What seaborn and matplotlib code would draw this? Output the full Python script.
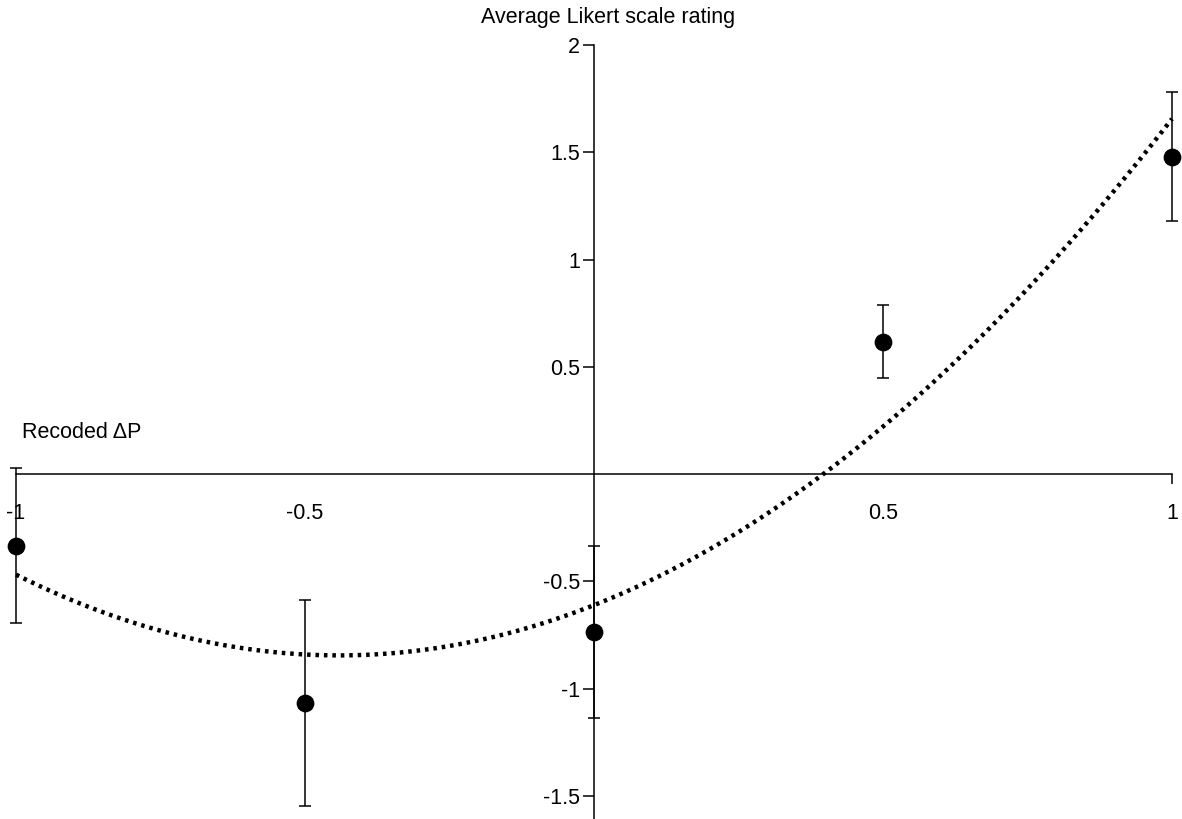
import matplotlib
matplotlib.use('Agg')
import matplotlib.pyplot as plt
import seaborn as sns
import pandas as pd

# values
delta_p = [-1.0, -0.5, 0.0, 0.5, 1.0]
mean_rating = [-0.334, -1.069, -0.737, 0.617, 1.479]
rating_err = [0.36, 0.48, 0.40, 0.17, 0.30]

x_ticks = [-1, -0.5, 0.5, 1]
x_tick_labels = ['-1', '-0.5', '0.5', '1']
y_ticks = [-1.5, -1, -0.5, 0.5, 1, 1.5, 2]
y_tick_labels = ['-1.5', '-1', '-0.5', '0.5', '1', '1.5', '2']

df = pd.DataFrame({'dp': delta_p, 'rating': mean_rating, 'err': rating_err})

sns.set_theme(style='white')
plt.rcParams['font.family'] = ['Liberation Sans', 'DejaVu Sans']
fs = 15.5

fig = plt.figure(figsize=(11.82, 8.19), dpi=100)
ax = fig.add_axes([16 / 1182, 0.0, 1156 / 1182, 1 - 45 / 819])

# quadratic fit, dotted
sns.regplot(data=df, x='dp', y='rating', order=2, ci=None, scatter=False, ax=ax,
            line_kws={'color': 'black', 'lw': 3.2, 'dashes': (0.8, 1.1), 'clip_on': False})

ax.errorbar(df['dp'], df['rating'], yerr=df['err'], fmt='none', ecolor='black',
            elinewidth=1.1, capsize=4, capthick=1.1, clip_on=False, zorder=3)
sns.scatterplot(data=df, x='dp', y='rating', color='black', s=140, edgecolor='black',
                ax=ax, zorder=4, clip_on=False)

ax.set_xlim(-1, 1)
ax.set_ylim(-1.608, 2.0)

for side in ['top', 'right']:
    ax.spines[side].set_visible(False)
ax.spines['left'].set_position(('data', 0))
ax.spines['bottom'].set_position(('data', 0))
for side in ['left', 'bottom']:
    ax.spines[side].set_color('black')
    ax.spines[side].set_linewidth(1.1)

ax.set_xticks(x_ticks)
ax.set_xticklabels(x_tick_labels)
ax.set_yticks(y_ticks)
ax.set_yticklabels(y_tick_labels)
# only the right end of the x axis carries a visible tick
ax.xaxis.remove_overlapping_locs = False
ax.set_xticks([1], minor=True)
ax.tick_params(axis='x', which='major', length=0, bottom=True, pad=21,
               labelsize=fs, labelcolor='black')
ax.tick_params(axis='x', which='minor', direction='out', length=7, width=1.1,
               color='black', bottom=True)
ax.tick_params(axis='y', direction='out', length=8, width=1.1, color='black',
               left=True, pad=2, labelsize=fs, labelcolor='black')

ax.set_xlabel('')
ax.set_ylabel('')

fig.text(608 / 1182, 1 - 17 / 819, 'Average Likert scale rating', ha='center', va='center',
         fontsize=fs, color='black')
ax.text(-0.99, 0.196, 'Recoded ΔP', ha='left', va='center', fontsize=fs, color='black')

fig.savefig('out.png', dpi=100)
